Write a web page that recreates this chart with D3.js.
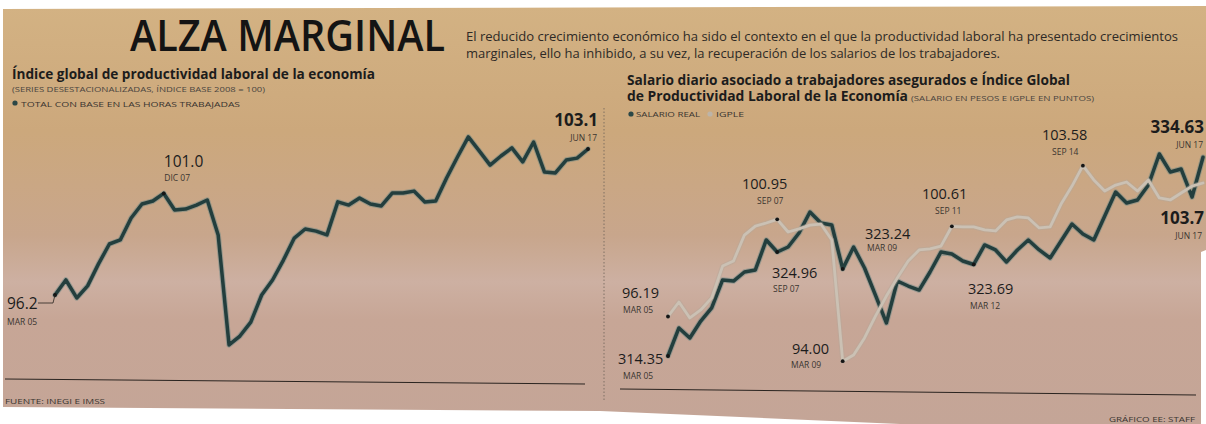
<!DOCTYPE html>
<html><head><meta charset="utf-8">
<script src="https://cdn.jsdelivr.net/npm/d3@7"></script>
<style>html,body{margin:0;padding:0;background:#fff;}svg{display:block}</style>
</head><body>
<svg id="c" width="1206" height="424"></svg>
<script>
// ---- DATA ----
const quarters = [
 "MAR 05","JUN 05","SEP 05","DIC 05","MAR 06","JUN 06","SEP 06","DIC 06",
 "MAR 07","JUN 07","SEP 07","DIC 07","MAR 08","JUN 08","SEP 08","DIC 08",
 "MAR 09","JUN 09","SEP 09","DIC 09","MAR 10","JUN 10","SEP 10","DIC 10",
 "MAR 11","JUN 11","SEP 11","DIC 11","MAR 12","JUN 12","SEP 12","DIC 12",
 "MAR 13","JUN 13","SEP 13","DIC 13","MAR 14","JUN 14","SEP 14","DIC 14",
 "MAR 15","JUN 15","SEP 15","DIC 15","MAR 16","JUN 16","SEP 16","DIC 16",
 "MAR 17","JUN 17"];
const productividad = [96.2,96.91,96.06,96.63,97.67,98.61,98.80,99.84,100.50,100.64,
 101.0,100.22,100.26,100.45,100.69,99.04,93.84,94.26,94.92,96.20,
 96.91,97.85,98.89,99.32,99.22,99.04,100.60,100.45,100.78,100.50,
 100.41,101.02,101.02,101.11,100.60,100.64,101.73,102.72,103.67,103.01,
 102.34,102.77,103.15,102.49,103.43,102.01,101.97,102.58,102.67,103.1];
const salarioReal = [314.35,317.21,316.19,317.92,319.25,322.11,322.00,322.92,323.13,326.19,
 324.96,325.47,326.90,329.04,327.92,327.72,323.24,325.47,323.33,320.57,
 317.72,322.00,321.49,321.08,322.92,324.96,324.76,324.04,323.69,325.68,
 325.17,323.94,325.17,326.19,325.17,324.35,326.08,327.82,326.80,326.19,
 328.64,331.08,329.96,330.27,331.80,334.96,333.13,333.43,330.57,334.63];
const igple = [96.19,96.90,96.12,96.51,97.10,98.66,98.91,100.18,100.62,100.77,
 100.95,100.33,100.48,100.67,100.72,99.94,94.00,94.30,95.14,96.21,
 97.19,98.08,98.91,99.45,99.50,99.64,100.61,100.58,100.58,100.43,
 100.38,100.92,101.07,101.02,100.53,100.58,101.70,102.58,103.58,102.88,
 102.34,102.63,102.78,102.34,102.88,102.00,101.90,102.24,102.58,102.73];
const leftNotes = [
  {i:0, v:"96.2", d:"MAR 05"},
  {i:10, v:"101.0", d:"DIC 07"},
  {i:49, v:"103.1", d:"JUN 17"}];
const salNotes = [
  {i:0, v:"314.35", d:"MAR 05"},
  {i:10, v:"324.96", d:"SEP 07"},
  {i:16, v:"323.24", d:"MAR 09"},
  {i:28, v:"323.69", d:"MAR 12"},
  {i:49, v:"334.63", d:"JUN 17"}];
const igNotes = [
  {i:0, v:"96.19", d:"MAR 05"},
  {i:10, v:"100.95", d:"SEP 07"},
  {i:16, v:"94.00", d:"MAR 09"},
  {i:26, v:"100.61", d:"SEP 11"},
  {i:38, v:"103.58", d:"SEP 14"},
  {i:49, v:"103.7", d:"JUN 17"}];

// ---- DRAW ----
const svg = d3.select("#c");
const defs = svg.append("defs");
const g = defs.append("linearGradient").attr("id","paper").attr("x1",0).attr("y1",0).attr("x2",0).attr("y2",1);
[[0,"#d3b283"],[0.3,"#cca87c"],[0.55,"#c8a68c"],[0.66,"#cdb0a2"],[0.75,"#c7a696"],[1,"#c4a597"]]
 .forEach(([o,c])=>g.append("stop").attr("offset",o).attr("stop-color",c));
svg.append("polygon").attr("points","3,9 1206,6 1206,250 1201,252 1201,424 900,424 600,411 3,407")
  .attr("fill","url(#paper)");

const F = "'Open Sans','Noto Sans',sans-serif";
function txt(x,y,s,size,opt={}){
  const t = svg.append("text").attr("x",x).attr("y",y).text(s)
    .attr("font-family",opt.family||F).attr("font-size",size)
    .attr("font-weight",opt.weight||400).attr("fill",opt.fill||"#1c1c1c");
  if(opt.len){t.attr("textLength",opt.len).attr("lengthAdjust","spacingAndGlyphs");}
  if(opt.anchor) t.attr("text-anchor",opt.anchor);
  return t;
}

// Header
txt(130,51,"ALZA MARGINAL",44,{len:315,fill:"#141414",weight:600});
txt(466,41,"El reducido crecimiento económico ha sido el contexto en el que la productividad laboral ha presentado crecimientos",12.5,{len:712,fill:"#2e2a26"});
txt(466,58,"marginales, ello ha inhibido, a su vez, la recuperación de los salarios de los trabajadores.",12.5,{len:534,fill:"#2e2a26"});

// Left header
txt(12,79,"Índice global de productividad laboral de la economía",14.5,{weight:700,len:363});
txt(12,92,"(SERIES DESESTACIONALIZADAS, ÍNDICE BASE 2008 = 100)",7.5,{len:253,fill:"#4a4540"});
svg.append("circle").attr("cx",15).attr("cy",103).attr("r",2.6).attr("fill","#2b4746");
txt(21,106.5,"TOTAL CON BASE EN LAS HORAS TRABAJADAS",8,{len:219,fill:"#3a3530"});

// Right header
txt(627,85,"Salario diario asociado a trabajadores asegurados e Índice Global",13.5,{weight:700,len:443});
txt(627,101,"de Productividad Laboral de la Economía",13.5,{weight:700,len:281});
txt(911,101,"(SALARIO EN PESOS E IGPLE EN PUNTOS)",7.5,{len:183,fill:"#4a4540"});
svg.append("circle").attr("cx",631).attr("cy",114).attr("r",2.6).attr("fill","#2b4746");
txt(636,117,"SALARIO REAL",8,{len:64,fill:"#3a3530"});
svg.append("circle").attr("cx",710).attr("cy",114).attr("r",2.6).attr("fill","#bdb4a8");
txt(716,117,"IGPLE",8,{len:28,fill:"#3a3530"});

// Separator
svg.append("line").attr("x1",604).attr("x2",604).attr("y1",108).attr("y2",402)
  .attr("stroke","#6d6258").attr("stroke-width",0.8).attr("stroke-dasharray","1.5,2");

// Scales
const xL = d3.scalePoint().domain(quarters).range([55,588]);
const yL = d3.scaleLinear().domain([93,104]).range([362.7,129.96]);
const xR = d3.scalePoint().domain(quarters).range([668,1203]);
const yS = d3.scaleLinear().domain([312,338]).range([379.03,124.23]);
const yI = d3.scaleLinear().domain([93,104]).range([381.6,157.1]);

// baselines
svg.append("line").attr("x1",5).attr("x2",585).attr("y1",379).attr("y2",384).attr("stroke","#2a2420").attr("stroke-width",1);
svg.append("line").attr("x1",620).attr("x2",1196).attr("y1",389).attr("y2",395).attr("stroke","#2a2420").attr("stroke-width",1);

const DARK="#233e3d", HALO="#5f8283";
function drawLine(x,y,vals,color,w,halo){
  const line = d3.line().x((d,i)=>x(quarters[i])).y(d=>y(d)).curve(d3.curveLinear);
  if(halo) svg.append("path").attr("d",line(vals)).attr("fill","none").attr("stroke",halo)
    .attr("stroke-width",w+2).attr("stroke-opacity",0.45).attr("stroke-linejoin","round").attr("stroke-linecap","round");
  svg.append("path").attr("d",line(vals)).attr("fill","none").attr("stroke",color)
    .attr("stroke-width",w).attr("stroke-linejoin","round").attr("stroke-linecap","round");
}
drawLine(xL,yL,productividad,DARK,3.5,HALO);
drawLine(xR,yS,salarioReal,DARK,3.5,HALO);
drawLine(xR,yI,igple,"#cbc1b4",2.8,"#b3a99b");

function dot(x,y){svg.append("circle").attr("cx",x).attr("cy",y).attr("r",1.9).attr("fill","#151515");}

// Left annotations
{
  const p0=[xL(quarters[0]),yL(productividad[0])];
  dot(...p0);
  svg.append("polyline").attr("points",`38,303 53,303 ${p0[0]},${p0[1]}`).attr("fill","none").attr("stroke","#2a2420").attr("stroke-width",0.8);
  txt(7,309,leftNotes[0].v,15.5,{fill:"#1c1c1c"});
  txt(7,325,leftNotes[0].d,8.5,{fill:"#3a3530"});
  const p1=[xL(quarters[10]),yL(productividad[10])];
  dot(...p1);
  txt(p1[0],167,leftNotes[1].v,15.5,{});
  txt(p1[0]+0.5,181,leftNotes[1].d,8.5,{fill:"#3a3530"});
  const p2=[xL(quarters[49]),yL(productividad[49])];
  dot(...p2);
  txt(598,126,leftNotes[2].v,17,{weight:700,anchor:"end"});
  txt(597,141,leftNotes[2].d,8.5,{fill:"#3a3530",anchor:"end"});
}
// Right annotations
{
  const pos = {
    s0:[618,364,623,379], s10:[772,278,773,292], s16:[865,239,867,251], s28:[968,294,970,309],
    i0:[622,298,623,313], i10:[742,189,757,204], i16:[792,354,791,368], i26:[922,199,935,214], i38:[1042,140,1052,155]
  };
  salNotes.forEach(n=>{
    if(n.i===49){
      txt(1204,133,n.v,17,{weight:700,anchor:"end"});
      txt(1203,148,n.d,8.5,{fill:"#3a3530",anchor:"end"});
      return;
    }
    dot(xR(quarters[n.i]),yS(salarioReal[n.i]));
    const p=pos["s"+n.i];
    txt(p[0],p[1],n.v,14.5,{});
    txt(p[2],p[3],n.d,8.5,{fill:"#3a3530"});
  });
  igNotes.forEach(n=>{
    if(n.i===49){
      txt(1204,224,n.v,17,{weight:700,anchor:"end"});
      txt(1202,239,n.d,8.5,{fill:"#3a3530",anchor:"end"});
      return;
    }
    dot(xR(quarters[n.i]),yI(igple[n.i]));
    const p=pos["i"+n.i];
    txt(p[0],p[1],n.v,14.5,{});
    txt(p[2],p[3],n.d,8.5,{fill:"#3a3530"});
  });
}

// Footer
txt(5,404,"FUENTE: INEGI E IMSS",8,{len:100,fill:"#3a3530"});
txt(1195,422,"GRÁFICO EE: STAFF",8,{len:86,fill:"#3a3530",anchor:"end"});
</script>
</body></html>
